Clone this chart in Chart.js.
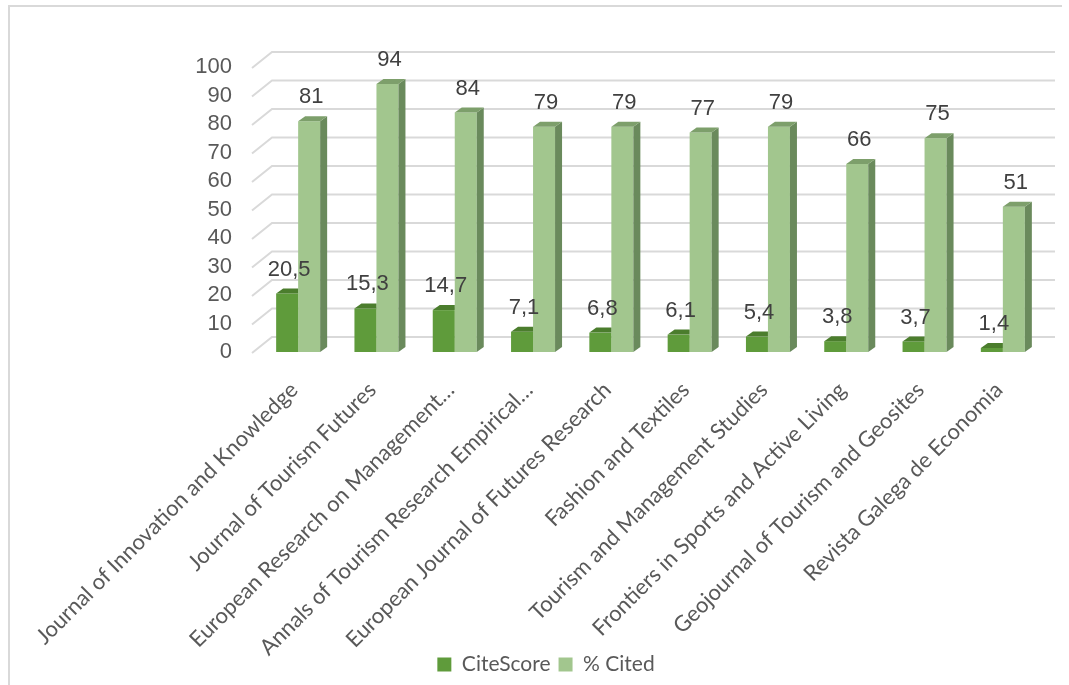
<!DOCTYPE html>
<html>
<head>
    <meta charset="UTF-8">
    <title>CiteScore and % Cited</title>
    <script src="https://cdn.jsdelivr.net/npm/chart.js"></script>
    <style>
        body { margin: 0; background: #fff; }
        #wrap { position: relative; width: 1069px; height: 685px; }
        #frame {
            position: absolute; left: 8px; top: 5px; width: 1052px; height: 690px;
            border-left: 2px solid #d9d9d9; border-top: 2px solid #d9d9d9;
            pointer-events: none;
        }
    </style>
</head>
<body>
<div id="wrap">
    <canvas id="chart" width="1069" height="685"></canvas>
    <div id="frame"></div>
</div>
<script>
    // journals (as labelled on the axis)
    var journals = [
        'Journal of Innovation and Knowledge',
        'Journal of Tourism Futures',
        'European Research on Management…',
        'Annals of Tourism Research Empirical…',
        'European Journal of Futures Research',
        'Fashion and Textiles',
        'Tourism and Management Studies',
        'Frontiers in Sports and Active Living',
        'Geojournal of Tourism and Geosites',
        'Revista Galega de Economia'
    ];
    var citeScore = [20.5, 15.3, 14.7, 7.1, 6.8, 6.1, 5.4, 3.8, 3.7, 1.4];
    var pctCited = [81, 94, 84, 79, 79, 77, 79, 66, 75, 51];
    var yTicks = [0, 10, 20, 30, 40, 50, 60, 70, 80, 90, 100];

    var DEPTH_X = 7, DEPTH_Y = 5;       // bar depth
    var GRID_DX = 20, GRID_DY = 16;     // wall depth

    function fmt(v) {
        return String(v).replace('.', ',');
    }

    // back wall gridlines with the little floor diagonal
    var grid3d = {
        id: 'grid3d',
        afterLayout: function (chart) {
            // long rotated labels run down past the legend, don't clip them
            chart.scales.x.bottom = chart.height;
        },
        beforeDatasetsDraw: function (chart) {
            var ctx = chart.ctx, a = chart.chartArea, y = chart.scales.y;
            ctx.save();
            ctx.strokeStyle = '#d9d9d9';
            ctx.lineWidth = 2;
            yTicks.forEach(function (v) {
                var py = y.getPixelForValue(v);
                ctx.beginPath();
                ctx.moveTo(a.left - 7, py + 1);
                ctx.lineTo(a.left - 7 + GRID_DX, py + 1 - GRID_DY);
                ctx.lineTo(a.right + 13, py + 1 - GRID_DY);
                ctx.stroke();
            });
            ctx.restore();
        }
    };

    // side faces, top caps and value labels
    var bars3d = {
        id: 'bars3d',
        afterDatasetsDraw: function (chart) {
            var ctx = chart.ctx;
            ctx.save();
            chart.data.datasets.forEach(function (ds, di) {
                var meta = chart.getDatasetMeta(di);
                meta.data.forEach(function (bar) {
                    var l = bar.x - bar.width / 2, r = bar.x + bar.width / 2;
                    var t = bar.y, b = bar.base;
                    if (di === 1) {
                        ctx.fillStyle = ds.sideColor;
                        ctx.beginPath();
                        ctx.moveTo(r, t);
                        ctx.lineTo(r + DEPTH_X, t - DEPTH_Y);
                        ctx.lineTo(r + DEPTH_X, b - DEPTH_Y);
                        ctx.lineTo(r, b);
                        ctx.closePath();
                        ctx.fill();
                    }
                    ctx.fillStyle = ds.topColor;
                    ctx.beginPath();
                    ctx.moveTo(l, t);
                    ctx.lineTo(l + DEPTH_X, t - DEPTH_Y);
                    ctx.lineTo(di === 1 ? r + DEPTH_X : r, t - DEPTH_Y);
                    ctx.lineTo(r, t);
                    ctx.closePath();
                    ctx.fill();
                });
            });
            ctx.font = '22px "Liberation Sans", Arial, sans-serif';
            ctx.fillStyle = '#404040';
            ctx.textAlign = 'center';
            ctx.textBaseline = 'middle';
            chart.data.datasets.forEach(function (ds, di) {
                chart.getDatasetMeta(di).data.forEach(function (bar, i) {
                    ctx.fillText(fmt(ds.data[i]), bar.x + 2, bar.y - 24);
                });
            });
            ctx.restore();
        }
    };

    var ctx = document.getElementById('chart').getContext('2d');
    var chart = new Chart(ctx, {
        type: 'bar',
        data: {
            labels: journals,
            datasets: [{
                label: 'CiteScore',
                data: citeScore,
                backgroundColor: '#5f9b3b',
                topColor: '#4b7d2d',
                sideColor: '#4b7d2d',
                categoryPercentage: 0.562,
                barPercentage: 1.0
            }, {
                label: '% Cited',
                data: pctCited,
                backgroundColor: '#a2c68e',
                topColor: '#7d9f6b',
                sideColor: '#6a8a5c',
                categoryPercentage: 0.562,
                barPercentage: 1.0
            }]
        },
        options: {
            responsive: false,
            animation: false,
            layout: { padding: { left: 50, right: 27, top: 67, bottom: 0 } },
            scales: {
                x: {
                    grid: { display: false, drawTicks: false },
                    border: { display: false },
                    ticks: {
                        maxRotation: 45,
                        minRotation: 45,
                        autoSkip: false,
                        padding: 25,
                        labelOffset: -4,
                        color: '#595959',
                        font: { family: 'Lato', size: 22 }
                    },
                    afterFit: function (scale) { scale.height = 294; }
                },
                y: {
                    min: 0,
                    max: 100,
                    grid: { display: false, drawTicks: false },
                    border: { display: false },
                    ticks: {
                        stepSize: 10,
                        autoSkip: false,
                        padding: 27,
                        color: '#595959',
                        font: { family: 'Liberation Sans', size: 22 }
                    },
                    afterFit: function (scale) { scale.width = 209; }
                }
            },
            plugins: {
                legend: {
                    position: 'bottom',
                    labels: {
                        boxWidth: 14,
                        boxHeight: 14,
                        padding: 8,
                        color: '#595959',
                        font: { family: 'Lato', size: 21 }
                    }
                },
                tooltip: { enabled: false }
            }
        },
        plugins: [grid3d, bars3d]
    });
</script>
</body>
</html>
